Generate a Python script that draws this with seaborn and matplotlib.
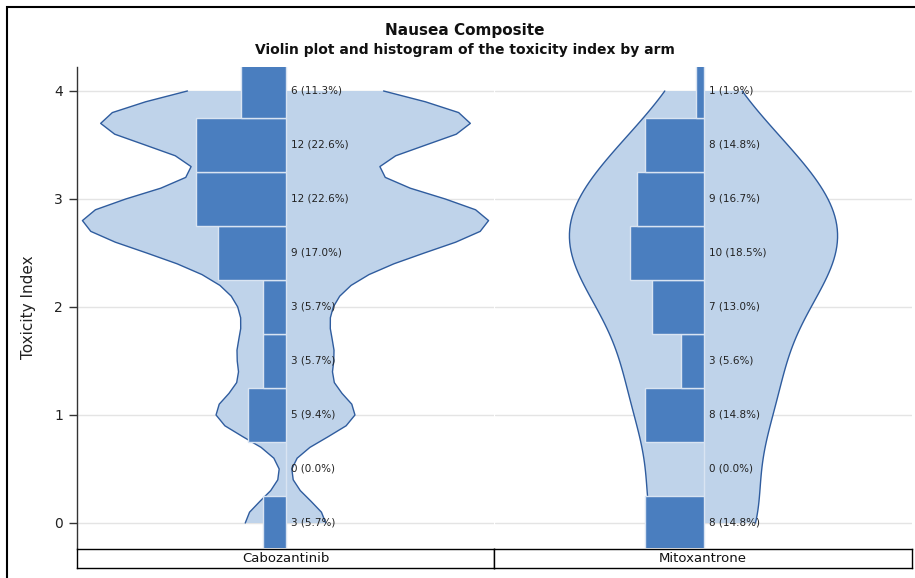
import numpy as np
import pandas as pd
import matplotlib
matplotlib.use("Agg")
import matplotlib.pyplot as plt
import seaborn as sns
from matplotlib.patches import Rectangle

# ---------------- data ----------------
arms = ["Cabozantinib", "Mitoxantrone"]
bin_centers = [0, 0.5, 1, 1.5, 2, 2.5, 3, 3.5, 4]
cabo_counts = [3, 0, 5, 3, 3, 9, 12, 12, 6]
mito_counts = [8, 0, 8, 3, 7, 10, 9, 8, 1]
yticks = [0, 1, 2, 3, 4]

# estimated individual toxicity-index values (for the violin density)
cabo_values = [0, 0, 0,
               1, 1, 1, 1, 1,
               1.45, 1.5, 1.6,
               1.8, 2.0, 2.1,
               2.333, 2.333, 2.5, 2.5, 2.5, 2.667, 2.667, 2.667, 2.667,
               2.778, 2.778, 2.778, 2.778, 2.889, 2.889, 2.889, 2.889, 2.889,
               3.0, 3.0, 3.0,
               3.25, 3.333, 3.5, 3.5, 3.667, 3.667, 3.667, 3.667, 3.7, 3.7,
               3.7, 3.74,
               3.75, 3.75, 3.8125, 3.875, 4.0, 4.0]
mito_values = [0, 0, 0, 0, 0, 0, 0, 0,
               1, 1, 1, 1, 1, 1, 1.125, 1.2,
               1.5, 1.5, 1.667,
               1.75, 2.0, 2.0, 2.0, 2.0, 2.125, 2.2,
               2.333, 2.333, 2.333, 2.5, 2.5, 2.5, 2.5, 2.667, 2.667, 2.667,
               2.778, 2.778, 2.778, 2.889, 2.889, 3.0, 3.0, 3.0, 3.0,
               3.25, 3.25, 3.333, 3.5, 3.5, 3.5, 3.583, 3.667,
               4.0]

# ---------------- style ----------------
sns.set_style("white")
plt.rcParams["font.family"] = ["DejaVu Sans"]

VIOLIN_FILL = "#BFD3EA"
VIOLIN_EDGE = "#2F5C9E"
BAR_FILL = "#4A7EBF"
BAR_EDGE = "#D9E4F2"
GRID = "#E4E4E4"

W, H = 915, 578
fig = plt.figure(figsize=(W / 100, H / 100), dpi=100)


def fx(px):
    return px / W


def fy(py):
    return 1 - py / H


ax_top, ax_bot = 67, 548
ax1 = fig.add_axes([fx(77), fy(ax_bot), fx(417), (ax_bot - ax_top) / H])
ax2 = fig.add_axes([fx(495), fy(ax_bot), fx(417), (ax_bot - ax_top) / H])

panels = [
    (ax1, cabo_values, cabo_counts, 0.43, 0.974, 41),
    (ax2, mito_values, mito_counts, 1.0, 0.643, 101),
]
bar_scale = 0.0095  # x-units per percent

for ax, vals, counts, bwa, wid, gs in panels:
    sns.violinplot(y=vals, ax=ax, color=VIOLIN_FILL, saturation=1, inner=None,
                   cut=0, gridsize=gs, bw_adjust=bwa, width=wid,
                   linewidth=1, linecolor=VIOLIN_EDGE, zorder=2)
    coll = ax.collections[-1]
    verts = coll.get_paths()[0].vertices
    coll.set_edgecolor("none")
    coll.set_linewidth(0)
    left = verts[verts[:, 0] < 0]
    right = verts[verts[:, 0] > 0]
    left = left[np.argsort(left[:, 1])]
    right = right[np.argsort(right[:, 1])]
    ax.plot(left[:, 0], left[:, 1], color=VIOLIN_EDGE, lw=1, zorder=2.5)
    ax.plot(right[:, 0], right[:, 1], color=VIOLIN_EDGE, lw=1, zorder=2.5)

    total = sum(counts)
    pcts = [c / total * 100 for c in counts]
    ax.barh(bin_centers, [-p * bar_scale for p in pcts], left=0, height=0.5,
            color=BAR_FILL, edgecolor=BAR_EDGE, linewidth=1, zorder=3)
    for yc, c, p in zip(bin_centers, counts, pcts):
        ax.text(0.012, yc, f"{c} ({p:.1f}%)", fontsize=7.5, va="center",
                ha="left", color="#222222", zorder=4)

    ax.set_xlim(-0.5, 0.5)
    ax.set_ylim(-0.2315, 4.222)
    ax.set_yticks(yticks)
    ax.set_xticks([])
    ax.set_xlabel("")
    ax.set_axisbelow(True)
    ax.yaxis.grid(True, color=GRID, lw=1)
    ax.xaxis.grid(False)
    for s in ["top", "right", "bottom", "left"]:
        ax.spines[s].set_visible(False)
    ax.patch.set_alpha(0)

ax1.spines["left"].set_visible(True)
ax1.spines["left"].set_color("#333333")
ax1.spines["left"].set_linewidth(1)
ax1.tick_params(axis="y", left=True, length=6, width=1, color="#333333",
                labelsize=10, pad=4, labelcolor="#222222")
ax1.set_ylabel("Toxicity Index", fontsize=11, color="#222222")
ax1.yaxis.set_label_coords(-0.098, 0.5)
ax2.tick_params(axis="y", left=False, labelleft=False)

# column header boxes at the bottom
for x0, x1, name in [(77, 494, arms[0]), (494, 912, arms[1])]:
    hb = fig.add_axes([fx(x0), fy(568), fx(x1 - x0), 19 / H])
    hb.set_xticks([])
    hb.set_yticks([])
    for s in hb.spines.values():
        s.set_color("black")
        s.set_linewidth(1)
    hb.text(0.5, 0.5, name, ha="center", va="center", fontsize=9.5,
            color="#111111", transform=hb.transAxes)

# titles
fig.text(fx(465), fy(31), "Nausea Composite", ha="center", va="center",
         fontsize=11, fontweight="bold", color="#111111")
fig.text(fx(465), fy(50), "Violin plot and histogram of the toxicity index by arm",
         ha="center", va="center", fontsize=10, fontweight="bold", color="#111111")

# outer frame
fig.patches.append(Rectangle((fx(6.5), -0.1), 1.2, fy(7.5) + 0.1,
                             transform=fig.transFigure, fill=False,
                             edgecolor="black", lw=1.5))

fig.savefig("out.png", dpi=100)
